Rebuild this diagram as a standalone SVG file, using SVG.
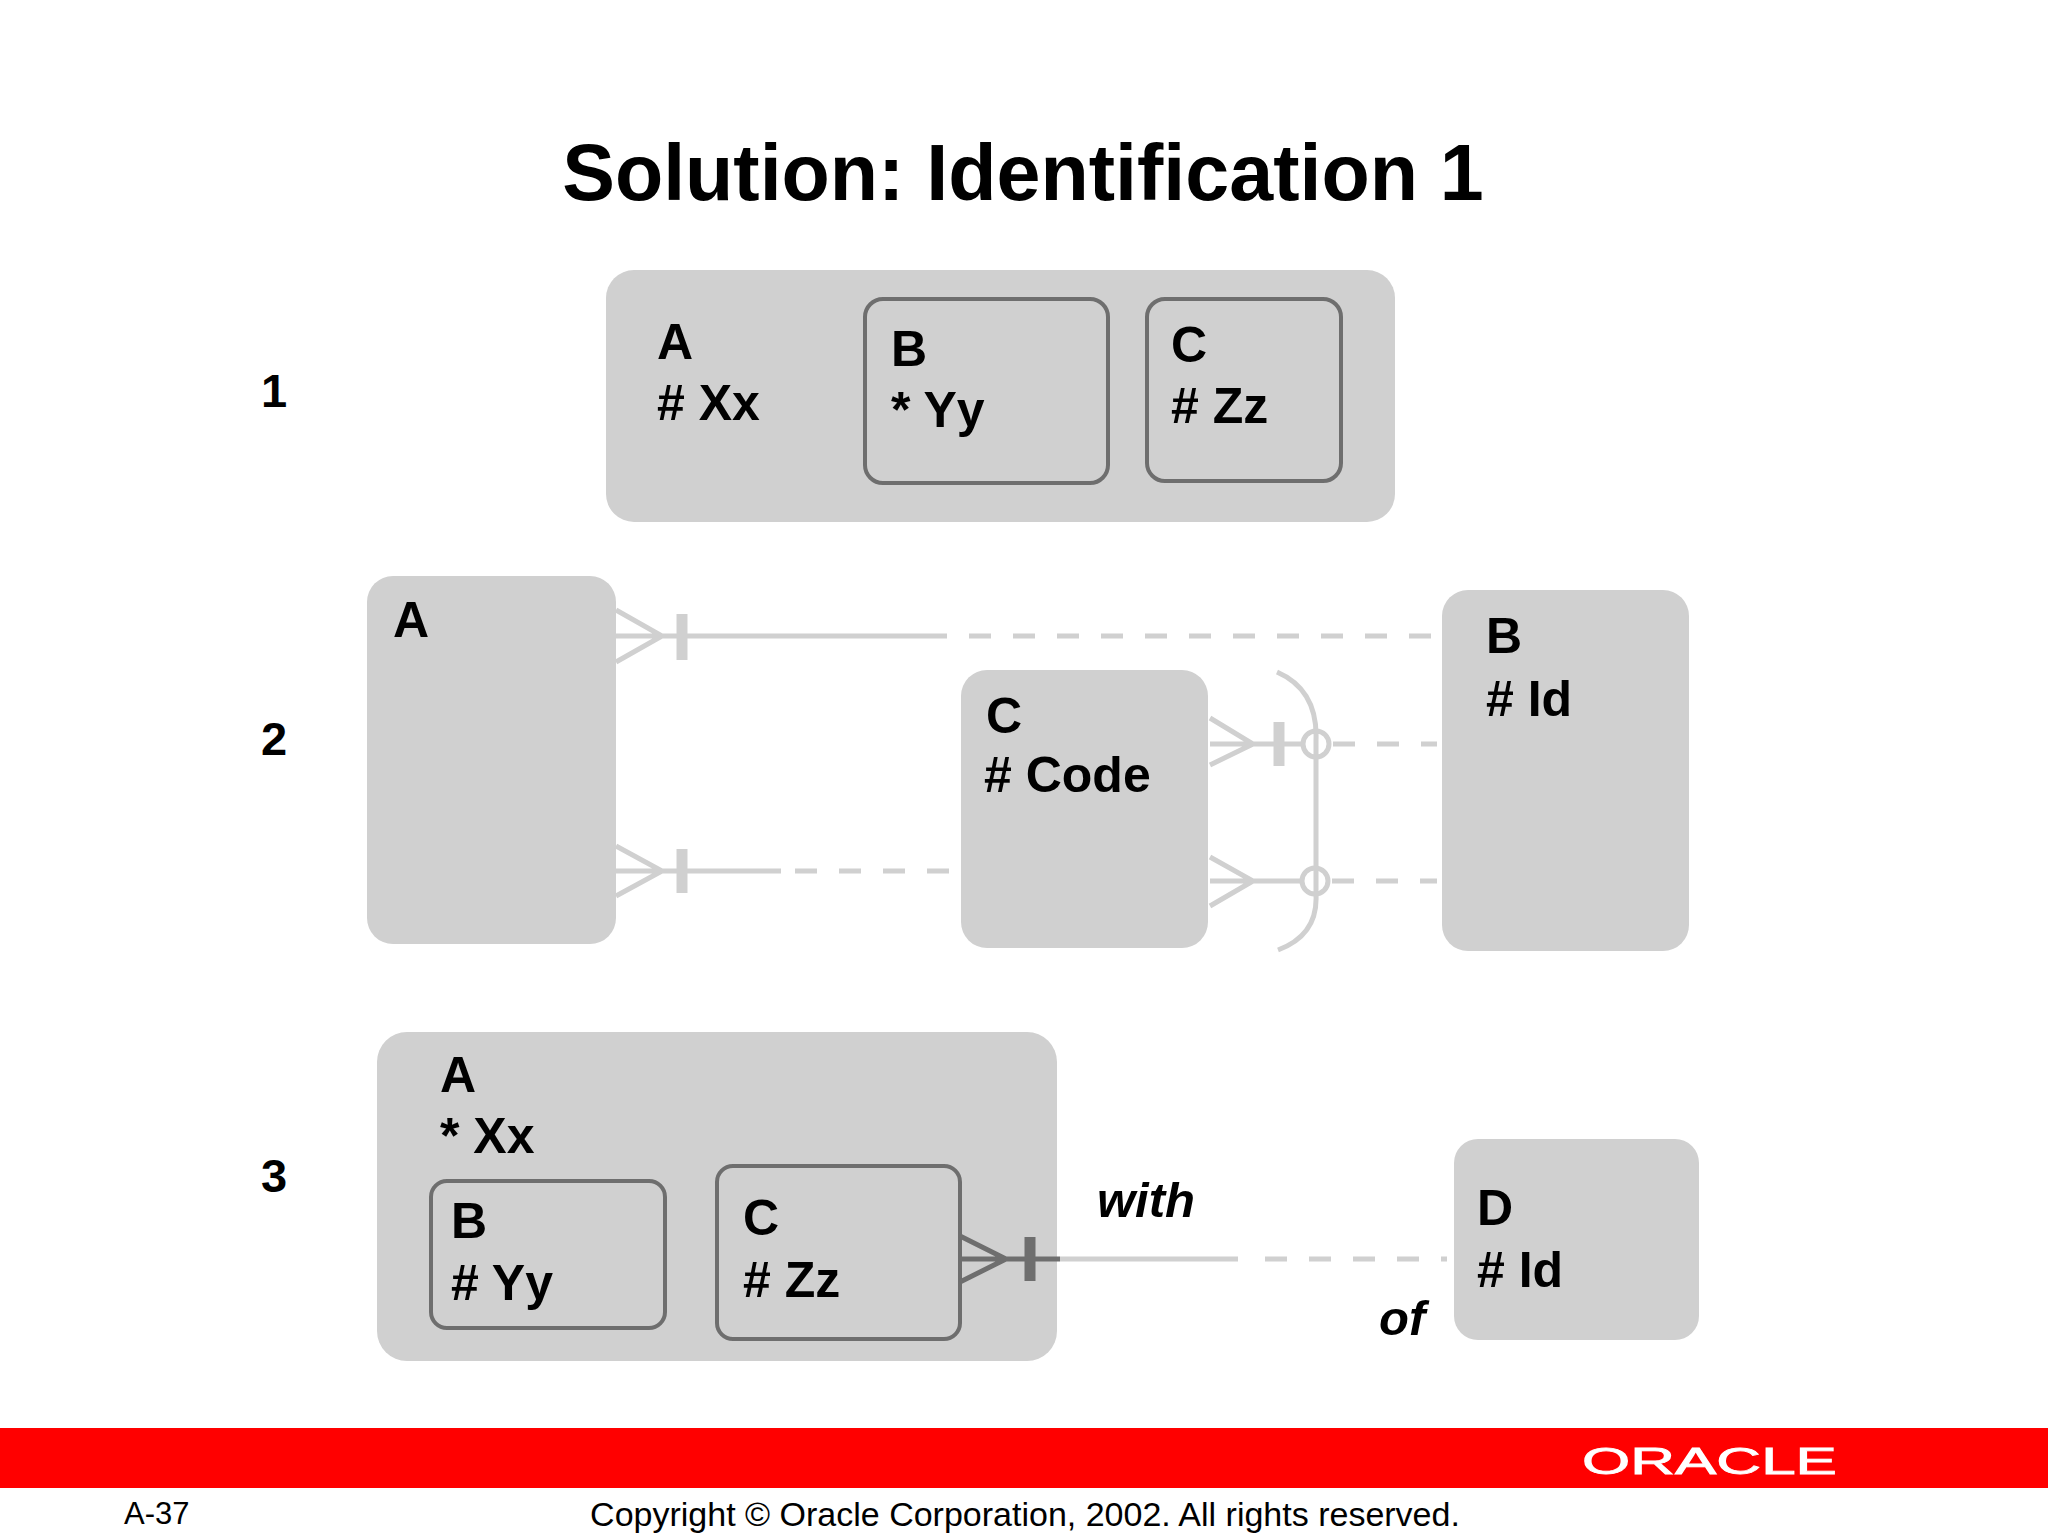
<svg xmlns="http://www.w3.org/2000/svg" width="2048" height="1536" viewBox="0 0 2048 1536">
<style>
.b{font-family:"Liberation Sans",Arial,sans-serif;font-weight:bold;fill:#000}
.t{font-size:50px}
.box{fill:#d0d0d0}
.in{fill:#d0d0d0;stroke:#6e6e6e;stroke-width:4}
.lc{stroke:#d0d0d0;stroke-width:5;fill:none}
.ld{stroke:#d0d0d0;stroke-width:5;fill:none;stroke-dasharray:22 22}
.dk{stroke:#6e6e6e;stroke-width:5;fill:none}
.bar{stroke-width:11px}
</style>
<rect width="2048" height="1536" fill="#fff"/>
<text x="1023" y="200" text-anchor="middle" class="b" font-size="79">Solution: Identification 1</text>
<g class="b" font-size="47"><text x="261" y="407">1</text><text x="261" y="755">2</text><text x="261" y="1192">3</text></g>

<g id="n1">
<rect class="box" x="606" y="270" width="789" height="252" rx="28"/>
<text class="b t" x="657" y="359">A</text><text class="b t" x="657" y="420"># Xx</text>
<rect class="in" x="865" y="299" width="243" height="184" rx="18"/>
<text class="b t" x="891" y="366">B</text><text class="b t" x="891" y="427">* Yy</text>
<rect class="in" x="1147" y="299" width="194" height="182" rx="18"/>
<text class="b t" x="1171" y="362">C</text><text class="b t" x="1171" y="423"># Zz</text>
</g>

<g id="n2A"><rect class="box" x="367" y="576" width="249" height="368" rx="26"/><text class="b t" x="393" y="637">A</text></g>
<g id="n2B"><rect class="box" x="1442" y="590" width="247" height="361" rx="26"/><text class="b t" x="1486" y="653">B</text><text class="b t" x="1486" y="716"># Id</text></g>
<g id="n2C"><rect class="box" x="961" y="670" width="247" height="278" rx="26"/><text class="b t" x="986" y="733">C</text><text class="b t" x="984" y="792"># Code</text></g>

<g id="n3">
<rect class="box" x="377" y="1032" width="680" height="329" rx="30"/>
<text class="b t" x="440" y="1092">A</text><text class="b t" x="440" y="1153">* Xx</text>
<rect class="in" x="431" y="1181" width="234" height="147" rx="16"/>
<text class="b t" x="451" y="1238">B</text><text class="b t" x="451" y="1300"># Yy</text>
<rect class="in" x="717" y="1166" width="243" height="173" rx="16"/>
<text class="b t" x="743" y="1235">C</text><text class="b t" x="743" y="1297"># Zz</text>
</g>
<g id="n3D"><rect class="box" x="1454" y="1139" width="245" height="201" rx="24"/><text class="b t" x="1477" y="1225">D</text><text class="b t" x="1477" y="1287"># Id</text></g>

<g id="connectors">
<path class="lc" d="M616,610 L662,636 L616,662 M616,636 H925"/>
<path class="lc bar" d="M682,614 V660"/>
<path class="ld" d="M925,636 H1437"/>
<path class="lc" d="M616,846 L662,871 L616,896 M616,871 H781"/>
<path class="lc bar" d="M682,849 V893"/>
<path class="ld" d="M795,871 H961"/>
<path class="lc" d="M1210,718 L1253,744 L1210,765 M1210,744 H1303"/>
<path class="lc bar" d="M1279,722 V766"/>
<circle class="lc" cx="1316" cy="744" r="13"/>
<path class="ld" d="M1333,744 H1437"/>
<path class="lc" d="M1210,857 L1253,881 L1210,906 M1210,881 H1302"/>
<circle class="lc" cx="1315" cy="881" r="13"/>
<path class="ld" d="M1332,881 H1437"/>
<path class="lc" d="M1277,672 Q1318,690 1316,740 L1316,895 Q1318,935 1278,950"/>
<path class="dk" d="M960,1236 L1006,1259 L960,1282 M960,1259 H1060"/>
<path class="dk bar" d="M1030,1237 V1281"/>
<path class="lc" d="M1060,1259 H1238"/>
<path class="ld" d="M1265,1259 H1447"/>
<text class="b" font-style="italic" font-size="49" x="1097" y="1217">with</text>
<text class="b" font-style="italic" font-size="49" x="1379" y="1335">of</text>
</g>

<rect x="0" y="1428" width="2048" height="60" fill="#ff0000"/>
<text x="1582" y="1474" font-family="Liberation Sans,Arial,sans-serif" font-size="44" fill="#fff" stroke="#fff" stroke-width="1" textLength="255" lengthAdjust="spacingAndGlyphs" transform="translate(1582,0) scale(1,0.85) translate(-1582,260)">ORACLE</text>
<text x="124" y="1524" font-family="Liberation Sans,Arial,sans-serif" font-size="31" fill="#000">A-37</text>
<text x="1025" y="1526" text-anchor="middle" font-family="Liberation Sans,Arial,sans-serif" font-size="34" fill="#000">Copyright © Oracle Corporation, 2002. All rights reserved.</text>
</svg>
